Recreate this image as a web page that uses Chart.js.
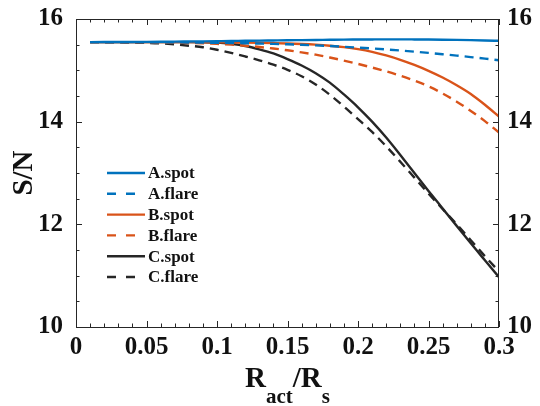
<!DOCTYPE html>
<html>
<head>
<meta charset="utf-8">
<script src="https://cdn.jsdelivr.net/npm/chart.js@4/dist/chart.umd.min.js"></script>
<style>
  html, body { margin: 0; padding: 0; background: #ffffff; }
  #wrap { width: 540px; height: 406px; }
</style>
</head>
<body>
<div id="wrap"><canvas id="c" width="540" height="406"></canvas></div>
<script>
// ---- data ----
const xValues = [0.01,0.02,0.03,0.04,0.05,0.06,0.07,0.08,0.09,0.10,
                 0.11,0.12,0.13,0.14,0.15,0.16,0.17,0.18,0.19,0.20,
                 0.21,0.22,0.23,0.24,0.25,0.26,0.27,0.28,0.29,0.30];
const aSpot  = [15.550,15.551,15.552,15.553,15.555,15.557,15.559,15.562,15.565,15.568,
                15.571,15.575,15.578,15.582,15.586,15.589,15.592,15.595,15.598,15.600,
                15.602,15.603,15.603,15.602,15.600,15.597,15.593,15.588,15.582,15.575];
const aFlare = [15.550,15.550,15.550,15.549,15.548,15.547,15.545,15.543,15.540,15.537,
                15.533,15.528,15.522,15.515,15.507,15.497,15.486,15.473,15.459,15.443,
                15.426,15.407,15.386,15.364,15.340,15.314,15.287,15.258,15.228,15.195];
const bSpot  = [15.550,15.550,15.550,15.550,15.550,15.550,15.550,15.549,15.548,15.546,
                15.543,15.540,15.536,15.531,15.524,15.514,15.500,15.480,15.452,15.413,
                15.360,15.290,15.205,15.105,14.990,14.860,14.710,14.540,14.330,14.100];
const bFlare = [15.550,15.550,15.549,15.548,15.546,15.543,15.539,15.533,15.525,15.515,
                15.500,15.480,15.455,15.425,15.390,15.350,15.305,15.250,15.190,15.125,
                15.055,14.980,14.895,14.800,14.690,14.550,14.390,14.210,14.010,13.790];
const cSpot  = [15.550,15.550,15.550,15.550,15.550,15.550,15.550,15.550,15.548,15.540,
                15.515,15.475,15.410,15.330,15.220,15.095,14.945,14.760,14.530,14.280,
                14.000,13.690,13.350,13.000,12.650,12.310,11.970,11.630,11.300,10.970];
const cFlare = [15.550,15.548,15.545,15.540,15.535,15.525,15.505,15.480,15.450,15.400,
                15.340,15.270,15.195,15.110,15.010,14.885,14.725,14.525,14.295,14.050,
                13.800,13.520,13.220,12.910,12.600,12.300,12.000,11.690,11.380,11.080];
const seriesLabels = ['A.spot','A.flare','B.spot','B.flare','C.spot','C.flare'];
const xTicks = [0, 0.05, 0.1, 0.15, 0.2, 0.25, 0.3];
const yTicks = [10, 12, 14, 16];

// ---- styling ----
const BLUE = '#0072BD', ORANGE = '#D95319', BLACK = '#262626';
const FONT = '"Liberation Serif", "Times New Roman", serif';
const DASH = [9, 6];

function pts(ys) { return xValues.map((x, i) => ({ x: x, y: ys[i] })); }
function ds(label, ys, color, dashed) {
  return {
    label: label, data: pts(ys), borderColor: color, backgroundColor: color,
    borderWidth: 2.4, borderDash: dashed ? DASH : [], pointRadius: 0,
    cubicInterpolationMode: 'monotone', fill: false
  };
}

const boxTicks = {
  id: 'boxTicks',
  afterDraw(chart) {
    const ctx = chart.ctx, a = chart.chartArea;
    const xs = chart.scales.x, ys = chart.scales.y;
    ctx.save();
    ctx.strokeStyle = BLACK;
    ctx.lineWidth = 1;
    ctx.setLineDash([]);
    ctx.strokeRect(a.left + 0.5, a.top + 0.5, a.right - a.left - 1, a.bottom - a.top);
    ctx.beginPath();
    for (let i = 0; i <= 30; i++) {
      const v = i / 100;
      const px = Math.round(xs.getPixelForValue(v)) + 0.5;
      const len = (i % 5 === 0) ? 6 : 3.5;
      ctx.moveTo(px, a.bottom); ctx.lineTo(px, a.bottom - len);
      ctx.moveTo(px, a.top); ctx.lineTo(px, a.top + len);
    }
    for (let i = 0; i <= 12; i++) {
      const v = 10 + i * 0.5;
      const py = Math.round(ys.getPixelForValue(v)) + 0.5;
      const len = (i % 4 === 0) ? 6 : 3.5;
      ctx.moveTo(a.left, py); ctx.lineTo(a.left + len, py);
      ctx.moveTo(a.right, py); ctx.lineTo(a.right - len, py);
    }
    ctx.stroke();

    // legend
    const lx0 = 107, lx1 = 145, tx = 148, ly0 = 173, step = 20.8;
    ctx.font = 'bold 17px ' + FONT;
    ctx.textBaseline = 'middle';
    ctx.textAlign = 'left';
    chart.data.datasets.forEach((d, i) => {
      const y = ly0 + i * step;
      ctx.strokeStyle = d.borderColor;
      ctx.lineWidth = 2.4;
      ctx.setLineDash(d.borderDash && d.borderDash.length ? [9, 10] : []);
      ctx.beginPath(); ctx.moveTo(lx0, y); ctx.lineTo(lx1, y); ctx.stroke();
      ctx.setLineDash([]);
      ctx.fillStyle = '#111';
      ctx.fillText(d.label, tx, y + 1);
    });

    // axis titles
    ctx.fillStyle = '#111';
    ctx.save();
    ctx.translate(25, (a.top + a.bottom) / 2);
    ctx.rotate(-Math.PI / 2);
    ctx.font = 'bold 29px ' + FONT;
    ctx.textAlign = 'center';
    ctx.textBaseline = 'middle';
    ctx.fillText('S/N', 0, 0);
    ctx.restore();

    const big = 'bold 29px ' + FONT, small = 'bold 21px ' + FONT;
    const parts = [['R', big, 0], ['act', small, 16], ['/R', big, 0], ['s', small, 16]];
    let total = 0;
    parts.forEach(p => { ctx.font = p[1]; total += ctx.measureText(p[0]).width; });
    let cx = (a.left + a.right) / 2 - total / 2;
    const base = 387;
    ctx.textAlign = 'left';
    ctx.textBaseline = 'alphabetic';
    parts.forEach(p => {
      ctx.font = p[1];
      ctx.fillText(p[0], cx, base + p[2]);
      cx += ctx.measureText(p[0]).width;
    });
    ctx.restore();
  }
};

const tickFont = { family: FONT, size: 25, weight: 'bold' };

new Chart(document.getElementById('c'), {
  type: 'line',
  data: {
    datasets: [
      ds(seriesLabels[0], aSpot, BLUE, false),
      ds(seriesLabels[1], aFlare, BLUE, true),
      ds(seriesLabels[2], bSpot, ORANGE, false),
      ds(seriesLabels[3], bFlare, ORANGE, true),
      ds(seriesLabels[4], cSpot, BLACK, false),
      ds(seriesLabels[5], cFlare, BLACK, true)
    ]
  },
  options: {
    responsive: false,
    animation: false,
    devicePixelRatio: 1,
    layout: { padding: { top: 19, left: 0, right: 0, bottom: 0 } },
    plugins: { legend: { display: false }, tooltip: { enabled: false } },
    scales: {
      x: {
        type: 'linear', min: 0, max: 0.3,
        grid: { display: false, drawTicks: false },
        border: { display: false },
        afterBuildTicks: s => { s.ticks = xTicks.map(v => ({ value: v })); },
        afterFit: s => { s.height = 79; },
        ticks: {
          font: tickFont, color: '#111', padding: 6, maxRotation: 0, autoSkip: false,
          callback: v => String(Number(v.toFixed(2)))
        }
      },
      y: {
        type: 'linear', position: 'left', min: 10, max: 16,
        grid: { display: false, drawTicks: false },
        border: { display: false },
        afterBuildTicks: s => { s.ticks = yTicks.map(v => ({ value: v })); },
        afterFit: s => { s.width = 76; s.paddingTop = 0; s.paddingBottom = 0; },
        ticks: { font: tickFont, color: '#111', padding: 13 }
      },
      y2: {
        type: 'linear', position: 'right', min: 10, max: 16,
        grid: { display: false, drawTicks: false },
        border: { display: false },
        afterBuildTicks: s => { s.ticks = yTicks.map(v => ({ value: v })); },
        afterFit: s => { s.width = 41; s.paddingTop = 0; s.paddingBottom = 0; },
        ticks: { font: tickFont, color: '#111', padding: 8 }
      }
    }
  },
  plugins: [boxTicks]
});
</script>
</body>
</html>
